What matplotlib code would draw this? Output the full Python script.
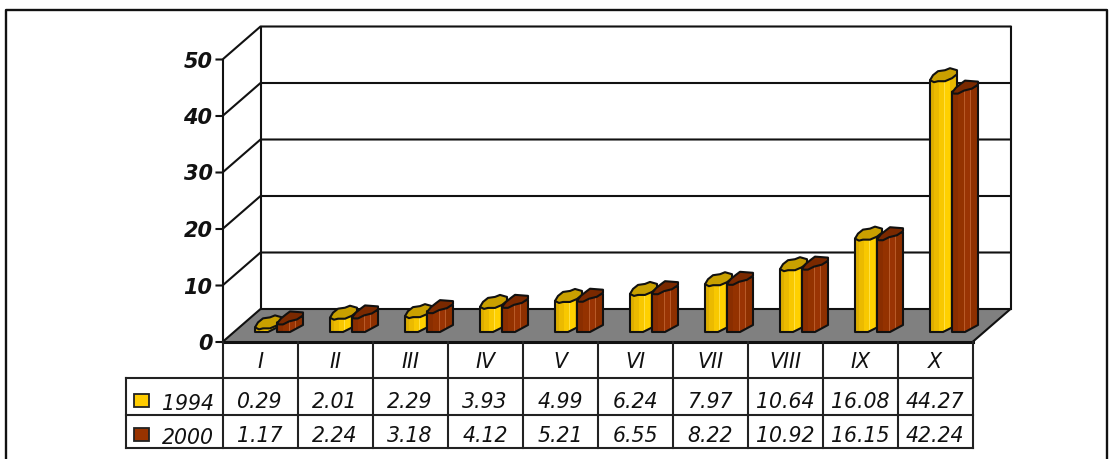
import matplotlib
matplotlib.use("Agg")
import matplotlib.pyplot as plt
from matplotlib.patches import Polygon, Rectangle

categories = ["I", "II", "III", "IV", "V", "VI", "VII", "VIII", "IX", "X"]
values_1994 = [0.29, 2.01, 2.29, 3.93, 4.99, 6.24, 7.97, 10.64, 16.08, 44.27]
values_2000 = [1.17, 2.24, 3.18, 4.12, 5.21, 6.55, 8.22, 10.92, 16.15, 42.24]
series_names = ["1994", "2000"]
y_ticks = [0, 10, 20, 30, 40, 50]

plt.rcParams["font.family"] = ["DejaVu Sans"]
W, H = 1115, 459
fig = plt.figure(figsize=(W / 100, H / 100), dpi=100)
ax = fig.add_axes([0, 0, 1, 1])
ax.set_xlim(0, W)
ax.set_ylim(H, 0)
ax.axis("off")

LW = 1.5
INK = "#111111"
FRONT_L, STEP, N = 222.5, 75.0, len(categories)
FRONT_R = FRONT_L + STEP * N
DX, DY = 38, -33
FRONT_Y0, UNIT = 342, 5.65
BAR_BASE, BAR_LIFT, BAR_UNIT, BAR_SHIFT = 332, 3, 5.62, 22


def line(xs, ys, lw=LW, color=INK, z=2):
    ax.plot(xs, ys, color=color, lw=lw, solid_capstyle="projecting", zorder=z)


# outer frame, open at the bottom edge
line([6, 6, 1107, 1107], [H, 10, 10, H], lw=1.7)

# floor of the plot box
floor = [(FRONT_L, FRONT_Y0), (FRONT_R, FRONT_Y0),
         (FRONT_R + DX, FRONT_Y0 + DY), (FRONT_L + DX, FRONT_Y0 + DY)]
ax.add_patch(Polygon(floor, closed=True, fc="#808080", ec="none", zorder=1))

# walls, gridlines and value ticks
for t in y_ticks:
    yf = FRONT_Y0 - t * UNIT
    line([FRONT_L - 6, FRONT_L, FRONT_L + DX, FRONT_R + DX], [yf, yf, yf + DY, yf + DY])
    ax.text(FRONT_L - 10, yf + 2, str(t), ha="right", va="center", fontsize=15,
            fontweight="bold", fontstyle="italic", color=INK)
top = FRONT_Y0 - max(y_ticks) * UNIT
line([FRONT_L, FRONT_L], [top, FRONT_Y0])
line([FRONT_L + DX, FRONT_L + DX], [top + DY, FRONT_Y0 + DY])
line([FRONT_R + DX, FRONT_R + DX], [top + DY, FRONT_Y0 + DY])
line([FRONT_R + DX, FRONT_R], [FRONT_Y0 + DY, FRONT_Y0])
line([FRONT_L, FRONT_R], [FRONT_Y0, FRONT_Y0], lw=2.2)

# wavy cap outline of a bar, relative to its top-left corner
CAP_YELLOW = [(0, 0), (3, -5), (8, -9), (15, -10), (20, -12), (27, -10), (27, -6),
              (22, -2), (15, 1), (8, 1), (4, 2)]
CAP_BROWN = [(0, 1), (4, -4), (9, -8), (13, -11), (26, -10), (26, -7), (20, -3),
             (12, -1), (6, 2), (2, 2)]
# vertical shading bands: start, end, colour
BANDS_YELLOW = [(0, 4, "#DDAE00"), (4, 9, "#EBBA00"), (9, 14, "#F8C800"), (14, 15, "#FFE040"),
                (15, 20, "#FFD000"), (20, 27, "#E8B800")]
BANDS_BROWN = [(0, 6, "#8A2E00"), (6, 12, "#943200"), (12, 13, "#B85A28"), (13, 18, "#9A3404"),
               (18, 19, "#B85A28"), (19, 26, "#8E3000")]


def draw_bar(left, value, bands, cap, cap_color, z):
    y = BAR_BASE - BAR_LIFT - value * BAR_UNIT
    width = bands[-1][1]
    body = [(left, y), (left + width, y - 6), (left + width, BAR_BASE - 7),
            (left + 13, BAR_BASE), (left, BAR_BASE)]
    clip = Polygon(body, closed=True, fc="none", ec="none", transform=ax.transData)
    ax.add_patch(clip)
    for a, b, c in bands:
        band = Rectangle((left + a, y - 12), b - a + 0.5, BAR_BASE - y + 12, fc=c, ec="none", zorder=z)
        ax.add_patch(band)
        band.set_clip_path(clip)
    ax.add_patch(Polygon(body, closed=True, fc="none", ec=INK, lw=LW, joinstyle="round", zorder=z + 0.1))
    outline = [(left + dx, y + dy) for dx, dy in cap]
    ax.add_patch(Polygon(outline, closed=True, fc=cap_color, ec=INK, lw=LW, joinstyle="round", zorder=z + 0.2))


for i in range(N):
    left = FRONT_L + 32.5 + i * STEP
    draw_bar(left, values_1994[i], BANDS_YELLOW, CAP_YELLOW, "#C9A000", 3 + i)
    draw_bar(left + BAR_SHIFT, values_2000[i], BANDS_BROWN, CAP_BROWN, "#7A2900", 3.5 + i)

# data table below the plot box
ROW_Y = [FRONT_Y0, 378, 415, 448]
TABLE_L = 126
line([TABLE_L, FRONT_R], [ROW_Y[1], ROW_Y[1]], color="#222222")
line([TABLE_L, FRONT_R], [ROW_Y[2], ROW_Y[2]], color="#222222")
line([TABLE_L, FRONT_R], [ROW_Y[3], ROW_Y[3]], color="#222222")
line([TABLE_L, TABLE_L], [ROW_Y[1], ROW_Y[3]], color="#222222")
for i in range(N + 1):
    x = FRONT_L + i * STEP
    line([x, x], [ROW_Y[0], ROW_Y[3]], color="#222222")

TXT = dict(fontstyle="italic", color=INK, fontsize=14.8)
for i, cat in enumerate(categories):
    cx = FRONT_L + (i + 0.5) * STEP
    ax.text(cx, 362, cat, ha="center", va="center", **TXT)
    ax.text(cx, 408, f"{values_1994[i]:.2f}", ha="center", va="baseline", **TXT)
    ax.text(cx, 442, f"{values_2000[i]:.2f}", ha="center", va="baseline", **TXT)

key_colors = ["#FFCC00", "#993300"]
for name, color, key_y, base in zip(series_names, key_colors, [394, 428], [410, 444]):
    ax.add_patch(Rectangle((134, key_y), 15, 13, fc=color, ec="#222222", lw=1.3, zorder=3))
    ax.text(214, base, name, ha="right", va="baseline", **TXT)

fig.savefig("out.png", dpi=100, facecolor="white")
